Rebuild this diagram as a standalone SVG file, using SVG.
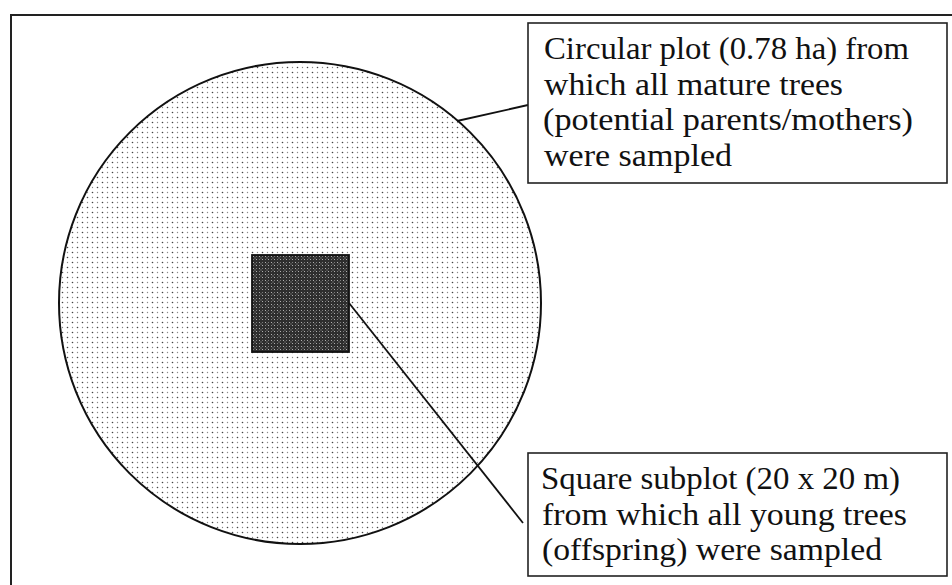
<svg xmlns="http://www.w3.org/2000/svg" width="952" height="585" viewBox="0 0 952 585">
<defs>
<pattern id="dots" x="0" y="0" width="10" height="10" patternUnits="userSpaceOnUse">
<rect width="10" height="10" fill="#ffffff"/>
<circle cx="2.5" cy="2.5" r="0.8" fill="#444"/>
<circle cx="7.5" cy="7.5" r="0.8" fill="#444"/>
<circle cx="7.5" cy="2.5" r="0.65" fill="#888"/>
<circle cx="2.5" cy="7.5" r="0.65" fill="#888"/>
</pattern>
<pattern id="check" x="252" y="255" width="6" height="6" patternUnits="userSpaceOnUse">
<rect width="6" height="6" fill="#2e2e2e"/>
<rect x="1" y="1" width="1" height="1" fill="#b0b0b0"/>
<rect x="4" y="4" width="1" height="1" fill="#b0b0b0"/>
<rect x="4" y="1" width="1" height="1" fill="#7a7a7a"/>
<rect x="1" y="4" width="1" height="1" fill="#7a7a7a"/>
<rect x="2.5" y="2.5" width="1" height="1" fill="#9a9a9a"/>
</pattern>
</defs>
<style>
.frame{fill:none;stroke:#222;stroke-width:2}
.box{fill:#fff;stroke:#222;stroke-width:1.6}
.conn{stroke:#111;stroke-width:1.8;fill:none}
.lbl{font-family:"Liberation Serif","Times New Roman",serif;font-size:32px;fill:#111}
</style>
<rect width="952" height="585" fill="#fff"/>
<rect class="frame" x="11" y="15" width="980" height="620"/>
<g id="circular-plot">
<circle cx="300" cy="303" r="241" fill="url(#dots)" stroke="#111" stroke-width="2"/>
</g>
<g id="square-subplot">
<rect x="252" y="255" width="97" height="97" fill="url(#check)" stroke="#111" stroke-width="1.8"/>
</g>
<g id="connectors">
<line class="conn" x1="457" y1="121" x2="528" y2="105"/>
<line class="conn" x1="349" y1="303" x2="523" y2="523"/>
</g>
<g id="label-circular">
<rect class="box" x="528" y="23" width="419" height="160"/>
<text class="lbl" x="544" y="59" textLength="365" lengthAdjust="spacingAndGlyphs">Circular plot (0.78 ha) from</text>
<text class="lbl" x="544" y="95" textLength="299" lengthAdjust="spacingAndGlyphs">which all mature trees</text>
<text class="lbl" x="543" y="130" textLength="370" lengthAdjust="spacingAndGlyphs">(potential parents/mothers)</text>
<text class="lbl" x="544" y="166" textLength="188" lengthAdjust="spacingAndGlyphs">were sampled</text>
</g>
<g id="label-square">
<rect class="box" x="528" y="453" width="419" height="123"/>
<text class="lbl" x="541" y="489" textLength="359" lengthAdjust="spacingAndGlyphs">Square subplot (20 x 20 m)</text>
<text class="lbl" x="542" y="525" textLength="365" lengthAdjust="spacingAndGlyphs">from which all young trees</text>
<text class="lbl" x="542" y="560" textLength="340" lengthAdjust="spacingAndGlyphs">(offspring) were sampled</text>
</g>
</svg>
